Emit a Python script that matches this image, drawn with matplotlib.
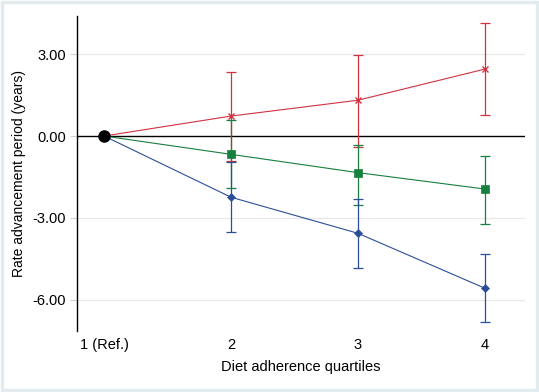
import matplotlib.pyplot as plt
from matplotlib.patches import Rectangle

plt.rcParams["font.family"] = ["Liberation Sans", "DejaVu Sans"]

quartiles = [1, 2, 3, 4]
tick_labels = ["1 (Ref.)", "2", "3", "4"]

# estimates and 95% CI per series (ref quartile fixed at 0)
red_est = [0.0, 0.73, 1.31, 2.45]
red_lo = [0.0, -0.92, -0.41, 0.77]
red_hi = [0.0, 2.36, 2.95, 4.12]

green_est = [0.0, -0.67, -1.34, -1.94]
green_lo = [0.0, -1.90, -2.52, -3.23]
green_hi = [0.0, 0.57, -0.33, -0.72]

blue_est = [0.0, -2.24, -3.56, -5.57]
blue_lo = [0.0, -3.53, -4.82, -6.82]
blue_hi = [0.0, -0.95, -2.32, -4.32]

yticks = [3.0, 0.0, -3.0, -6.0]

fig = plt.figure(figsize=(5.39, 3.92), dpi=100, facecolor="white")
fig.patches.append(Rectangle((0.003, 0.004), 0.994, 0.992, transform=fig.transFigure,
                             fill=False, edgecolor="#e2ecef", lw=2.5))
ax = fig.add_axes([0.143, 0.156, 0.831, 0.803])

for y in yticks:
    if y != 0:
        ax.axhline(y, color="#e8e8e8", lw=0.9, zorder=0)
ax.axhline(0, color="black", lw=1.0, zorder=1)

series = [
    (red_est, red_lo, red_hi, "#d2313f", "x", 5),
    (green_est, green_lo, green_hi, "#16803f", "s", 6),
    (blue_est, blue_lo, blue_hi, "#2a4f98", "D", 4),
]
for est, lo, hi, col, mk, ms in series:
    x = quartiles[1:]
    e = est[1:]
    yerr = [[a - b for a, b in zip(e, lo[1:])], [b - a for a, b in zip(e, hi[1:])]]
    ax.plot(quartiles, est, color=col, lw=0.8, zorder=2)
    ax.errorbar(x, e, yerr=yerr, fmt="none", ecolor=col, elinewidth=0.9,
                capsize=3.5, capthick=0.9, zorder=2)
    ax.plot(x, e, linestyle="none", marker=mk, color=col, markersize=ms,
            markeredgewidth=1.0 if mk == "x" else 0.5, zorder=3)

ax.plot([quartiles[0]], [0.0], marker="o", color="black", markersize=8, zorder=4)

ax.set_xlim(0.787, 4.316)
ax.set_ylim(-7.13, 4.39)
ax.set_xticks(quartiles)
ax.set_xticklabels(tick_labels)
ax.set_yticks(yticks)
ax.set_yticklabels([f"{v:.2f}" for v in yticks])
ax.tick_params(axis="x", length=0, pad=5, labelsize=10.5)
ax.tick_params(axis="y", length=5, color="#d0d0d0", labelsize=10.5, pad=3)

for s in ["top", "right", "bottom"]:
    ax.spines[s].set_visible(False)
ax.spines["left"].set_linewidth(1.0)

ax.set_xlabel("Diet adherence quartiles", fontsize=10.5, labelpad=6)
ax.set_ylabel("Rate advancement period (years)", fontsize=10, labelpad=5)
ax.set_facecolor("white")

fig.savefig("out.png", dpi=100)
